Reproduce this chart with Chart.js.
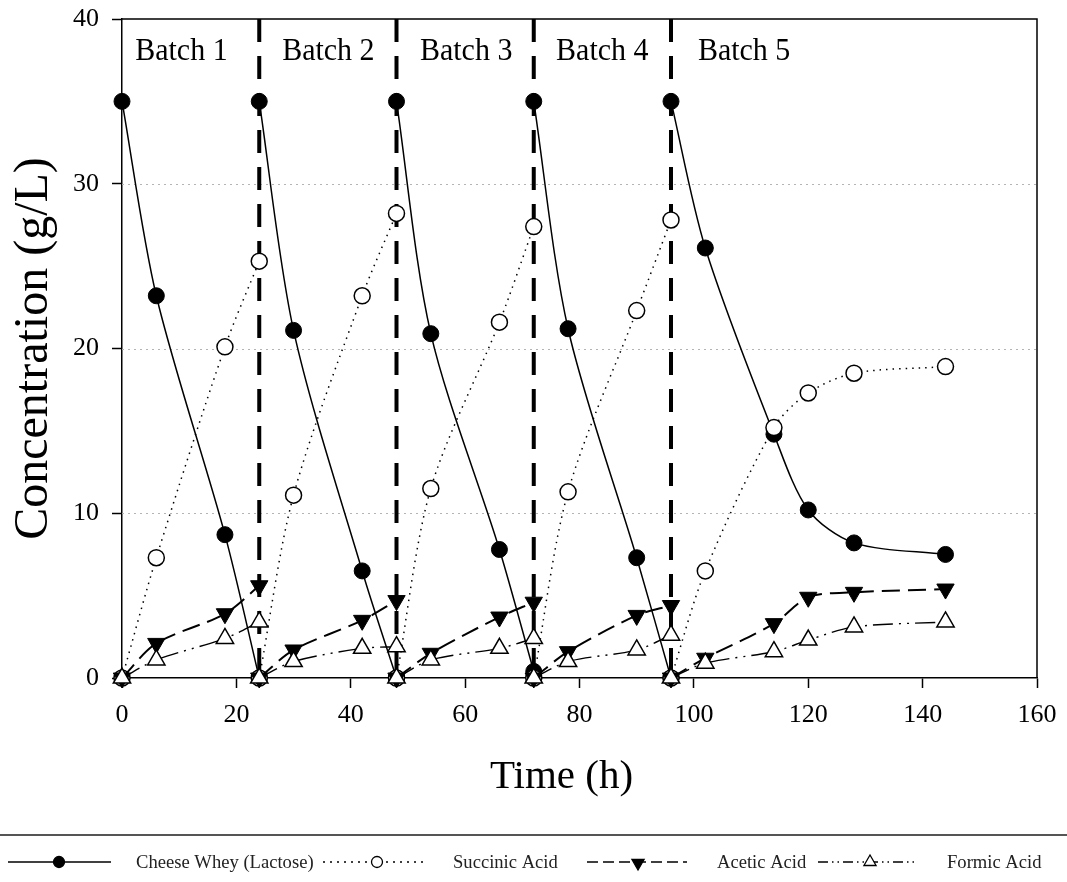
<!DOCTYPE html>
<html>
<head>
<meta charset="utf-8">
<script src="https://cdn.jsdelivr.net/npm/chart.js@4"></script>
<style>
  html, body { margin: 0; padding: 0; background: #fff; }
  canvas { display: block; }
</style>
</head>
<body>
<canvas id="c" width="1067" height="882"></canvas>
<script>
// Sampling times (h) for the five repeated batches; each batch restarts at its first hour
const hours = [0, 6, 18, 24,  24, 30, 42, 48,  48, 54, 66, 72,  72, 78, 90, 96,  96, 102, 114, 120, 128, 144];
const batchStartIdx = [0, 4, 8, 12, 16];

// Concentrations (g/L)
const lactose  = [35, 23.2, 8.7, 0,  35, 21.1, 6.5, 0,  35, 20.9, 7.8, 0.4,  35, 21.2, 7.3, 0,  35, 26.1, 14.8, 10.2, 8.2, 7.5];
const succinic = [0, 7.3, 20.1, 25.3,  0, 11.1, 23.2, 28.2,  0, 11.5, 21.6, 27.4,  0, 11.3, 22.3, 27.8,  0, 6.5, 15.2, 17.3, 18.5, 18.9];
const acetic   = [0, 2.1, 3.9, 5.6,  0, 1.7, 3.5, 4.7,  0, 1.5, 3.7, 4.6,  0, 1.6, 3.8, 4.4,  0, 1.2, 3.3, 4.9, 5.2, 5.4];
const formic   = [0, 1.1, 2.4, 3.4,  0, 1.0, 1.8, 1.9,  0, 1.1, 1.8, 2.4,  0, 1.0, 1.7, 2.6,  0, 0.9, 1.6, 2.3, 3.1, 3.4];

// Batch change-over times and labels
const batchEdges = [24, 48, 72, 96];
const batchNames = ['Batch 1', 'Batch 2', 'Batch 3', 'Batch 4', 'Batch 5'];
const batchLabelAt = [2.3, 28, 52.1, 75.9, 100.7];

const seriesNames = ['Cheese Whey (Lactose)', 'Succinic Acid', 'Acetic Acid', 'Formic Acid'];
const xTitle = 'Time (h)';
const yTitle = 'Concentration (g/L)';

const SERIF = '"Liberation Serif", "Times New Roman", serif';

// Split a series into one point list per batch
function batchSlices(values) {
  return batchStartIdx.map((start, b) => {
    const end = b + 1 < batchStartIdx.length ? batchStartIdx[b + 1] : hours.length;
    const pts = [];
    for (let i = start; i < end; i++) pts.push({ x: hours[i], y: values[i] });
    return pts;
  });
}

const seriesStyles = [
  { name: seriesNames[0], values: lactose, order: 3,
    borderWidth: 1.5, borderDash: [],
    pointStyle: 'circle', rotation: 0, pointRadius: 8, pointBorderWidth: 1,
    pointBackgroundColor: '#000', legendMarker: 'circleFilled', legendDash: [] },
  { name: seriesNames[1], values: succinic, order: 2,
    borderWidth: 1.5, borderDash: [1.5, 5],
    pointStyle: 'circle', rotation: 0, pointRadius: 8, pointBorderWidth: 1.5,
    pointBackgroundColor: '#fff', legendMarker: 'circleOpen', legendDash: [2, 5] },
  { name: seriesNames[2], values: acetic, order: 1,
    borderWidth: 2, borderDash: [18, 8],
    pointStyle: 'triangle', rotation: 180, pointRadius: 10, pointBorderWidth: 1,
    pointBackgroundColor: '#000', legendMarker: 'triDownFilled', legendDash: [11, 5] },
  { name: seriesNames[3], values: formic, order: 0,
    borderWidth: 1.4, borderDash: [20, 6, 2, 6, 2, 6],
    pointStyle: 'triangle', rotation: 0, pointRadius: 10, pointBorderWidth: 1.5,
    pointBackgroundColor: '#fff', legendMarker: 'triUpOpen', legendDash: [10, 4, 1.5, 4, 1.5, 4] }
];

const datasets = [];
seriesStyles.forEach(s => {
  batchSlices(s.values).forEach(pts => {
    datasets.push({
      label: s.name, data: pts, order: s.order,
      tension: 0.3, clip: false,
      borderColor: '#000', borderWidth: s.borderWidth, borderDash: s.borderDash,
      pointStyle: s.pointStyle, rotation: s.rotation, pointRadius: s.pointRadius,
      pointBorderWidth: s.pointBorderWidth, pointBorderColor: '#000',
      pointBackgroundColor: s.pointBackgroundColor, pointHoverRadius: 0,
      legendMarker: s.legendMarker, legendDash: s.legendDash
    });
  });
});

// Batch change-over lines
batchEdges.forEach(t => {
  datasets.push({
    label: 'change-over', data: [{ x: t, y: 40 }, { x: t, y: 0 }], order: 4, clip: false,
    borderColor: '#000', borderWidth: 4, borderDash: [23, 14],
    pointRadius: 0, pointHoverRadius: 0, tension: 0
  });
});

function drawMarker(ctx, kind, x, y, r) {
  ctx.save();
  ctx.setLineDash([]);
  ctx.lineWidth = 1.3;
  ctx.strokeStyle = '#000';
  ctx.beginPath();
  if (kind.startsWith('circle')) {
    ctx.arc(x, y, r, 0, Math.PI * 2);
  } else if (kind === 'triDownFilled') {
    ctx.moveTo(x, y + r);
    ctx.lineTo(x - r * 0.866, y - r * 0.5);
    ctx.lineTo(x + r * 0.866, y - r * 0.5);
    ctx.closePath();
  } else {
    ctx.moveTo(x, y - r);
    ctx.lineTo(x - r * 0.866, y + r * 0.5);
    ctx.lineTo(x + r * 0.866, y + r * 0.5);
    ctx.closePath();
  }
  ctx.fillStyle = kind.endsWith('Filled') ? '#000' : '#fff';
  ctx.fill();
  ctx.stroke();
  ctx.restore();
}

const decor = {
  id: 'decor',
  beforeDatasetsDraw(chart) {
    const { ctx, chartArea: a, scales: { y } } = chart;
    ctx.save();
    // dotted horizontal reference lines
    ctx.strokeStyle = '#b4b4b4';
    ctx.lineWidth = 1.2;
    ctx.setLineDash([2, 4]);
    [10, 20, 30].forEach(v => {
      const py = Math.round(y.getPixelForValue(v)) + 0.5;
      ctx.beginPath();
      ctx.moveTo(a.left, py);
      ctx.lineTo(a.right, py);
      ctx.stroke();
    });
    // top and right frame
    ctx.setLineDash([]);
    ctx.strokeStyle = '#000';
    ctx.lineWidth = 1.5;
    ctx.beginPath();
    ctx.moveTo(a.left, a.top);
    ctx.lineTo(a.right, a.top);
    ctx.lineTo(a.right, a.bottom);
    ctx.stroke();
    ctx.restore();
  },
  afterDraw(chart) {
    const { ctx, chartArea: a, scales: { x } } = chart;
    ctx.save();
    ctx.fillStyle = '#000';

    // batch labels
    ctx.font = '30px ' + SERIF;
    ctx.textAlign = 'left';
    ctx.textBaseline = 'alphabetic';
    batchNames.forEach((name, i) => {
      ctx.save();
      ctx.translate(x.getPixelForValue(batchLabelAt[i]), a.top + 41);
      ctx.scale(1, 1.08);
      ctx.fillText(name, 0, 0);
      ctx.restore();
    });

    // axis titles
    ctx.font = '41px ' + SERIF;
    ctx.textAlign = 'center';
    ctx.fillText(xTitle, (a.left + a.right) / 2 - 18, 788);
    ctx.save();
    ctx.translate(47, (a.top + a.bottom) / 2);
    ctx.rotate(-Math.PI / 2);
    ctx.font = '48px ' + SERIF;
    ctx.fillText(yTitle, 0, 0);
    ctx.restore();

    // legend rule
    ctx.strokeStyle = '#555';
    ctx.lineWidth = 2;
    ctx.beginPath();
    ctx.moveTo(0, 835);
    ctx.lineTo(chart.width, 835);
    ctx.stroke();

    // legend entries
    const slots = [
      { x0: 8,   x1: 111, mx: 59,  tx: 136 },
      { x0: 323, x1: 427, mx: 377, tx: 453 },
      { x0: 587, x1: 687, mx: 638, tx: 717 },
      { x0: 818, x1: 917, mx: 870, tx: 947 }
    ];
    const ly = 862;
    seriesNames.forEach((name, i) => {
      const ds = chart.data.datasets.find(d => d.label === name);
      const s = slots[i];
      ctx.save();
      ctx.strokeStyle = '#000';
      ctx.lineWidth = 1.5;
      ctx.setLineDash(ds.legendDash);
      ctx.beginPath();
      ctx.moveTo(s.x0, ly);
      ctx.lineTo(s.x1, ly);
      ctx.stroke();
      ctx.restore();
      const r = ds.legendMarker.startsWith('circle') ? 5.5 : 7;
      drawMarker(ctx, ds.legendMarker, s.mx, ly + (ds.legendMarker === 'triDownFilled' ? 1 : 0), r);
      ctx.fillStyle = '#222';
      ctx.font = '18.6px ' + SERIF;
      ctx.textAlign = 'left';
      ctx.textBaseline = 'alphabetic';
      ctx.fillText(name, s.tx, 868);
    });
    ctx.restore();
  }
};

new Chart(document.getElementById('c'), {
  type: 'line',
  data: { datasets },
  plugins: [decor],
  options: {
    responsive: false,
    animation: false,
    events: [],
    layout: { padding: { top: 19, right: 30, left: 0, bottom: 0 } },
    plugins: { legend: { display: false }, tooltip: { enabled: false } },
    scales: {
      x: {
        type: 'linear', min: 0, max: 160,
        afterFit(s) { s.height = 204; s.paddingLeft = 0; s.paddingRight = 0; },
        ticks: { stepSize: 20, color: '#000', padding: 12, font: { family: SERIF, size: 26 }, maxRotation: 0 },
        grid: { drawOnChartArea: false, drawTicks: true, tickLength: 10, tickColor: '#000', tickWidth: 1.5 },
        border: { display: true, color: '#000', width: 1.5 }
      },
      y: {
        type: 'linear', min: 0, max: 40,
        afterFit(s) { s.width = 122; s.paddingTop = 0; s.paddingBottom = 0; },
        ticks: { stepSize: 10, color: '#000', padding: 13, font: { family: SERIF, size: 26 } },
        grid: { drawOnChartArea: false, drawTicks: true, tickLength: 10, tickColor: '#000', tickWidth: 1.5 },
        border: { display: true, color: '#000', width: 1.5 }
      }
    }
  }
});
</script>
</body>
</html>
